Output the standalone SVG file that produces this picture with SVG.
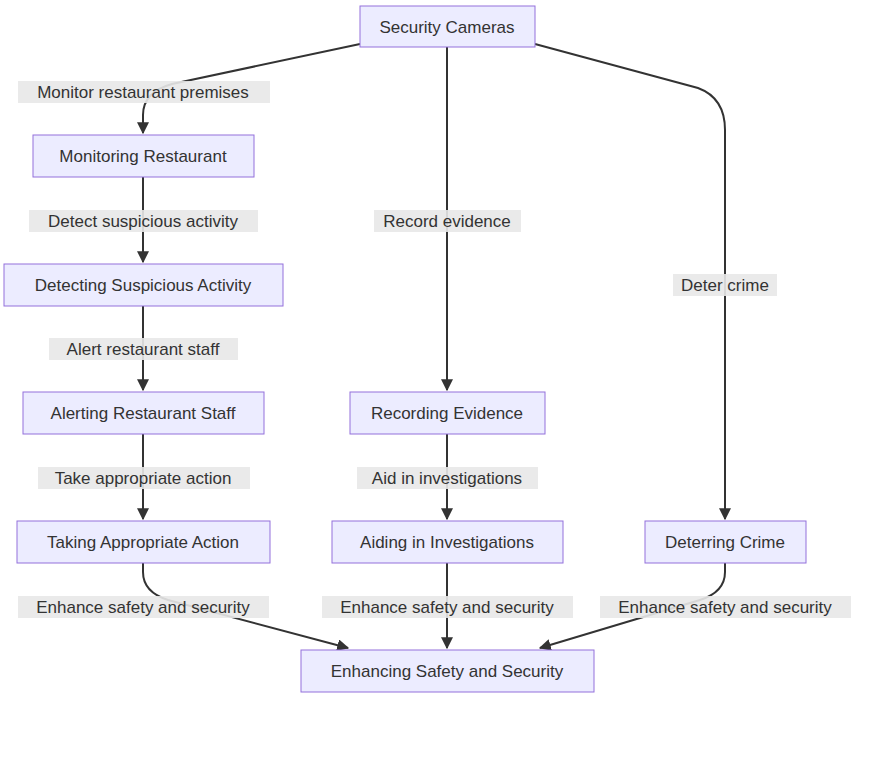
<svg xmlns="http://www.w3.org/2000/svg" width="882" height="757" viewBox="0 0 882 757">
<style>
.n rect{fill:#ECECFF;stroke:#9370DB;stroke-width:1}
text{font-family:"Liberation Sans","DejaVu Sans",sans-serif;font-size:17px;fill:#333;text-anchor:middle;dominant-baseline:central}
.e path{fill:none;stroke:#333;stroke-width:2;marker-end:url(#a)}
.l rect{fill:#e8e8e8;opacity:0.9}
</style>
<defs><marker id="a" viewBox="0 0 10 10" refX="9" refY="5" markerWidth="6" markerHeight="6" orient="auto"><path d="M0,0L10,5L0,10z" fill="#333"/></marker></defs>
<rect width="882" height="757" fill="#fff"/>
<g class="e" id="connectors">
<path d="M360,44 L172,84 Q143,92 143,115 L143,133"/>
<path d="M447,47 V390"/>
<path d="M535,44 L698,88 Q725,98 725,130 V519"/>
<path d="M143,177 V262"/>
<path d="M143,306 V390"/>
<path d="M143,434 V519"/>
<path d="M447,434 V519"/>
<path d="M143,563 V572 Q143,592 168,600 L348,648"/>
<path d="M447,563 V648"/>
<path d="M725,563 V572 Q725,592 700,600 L540,648"/>
</g>
<g class="l">
<rect x="18" y="81" width="252" height="22"/><text x="143" y="92">Monitor restaurant premises</text>
<rect x="29" y="210" width="229" height="22"/><text x="143" y="221">Detect suspicious activity</text>
<rect x="49" y="338" width="189" height="22"/><text x="143" y="349">Alert restaurant staff</text>
<rect x="38" y="467" width="212" height="22"/><text x="143" y="478">Take appropriate action</text>
<rect x="374" y="210" width="147" height="22"/><text x="447" y="221">Record evidence</text>
<rect x="357" y="467" width="181" height="22"/><text x="447" y="478">Aid in investigations</text>
<rect x="673" y="274" width="104" height="22"/><text x="725" y="285">Deter crime</text>
<rect x="18" y="596" width="251" height="22"/><text x="143" y="607">Enhance safety and security</text>
<rect x="322" y="596" width="251" height="22"/><text x="447" y="607">Enhance safety and security</text>
<rect x="600" y="596" width="251" height="22"/><text x="725" y="607">Enhance safety and security</text>
</g>
<g class="n" id="sc"><rect x="360" y="6" width="175" height="41"/><text x="447" y="27">Security Cameras</text></g>
<g class="n" id="mr"><rect x="33" y="135" width="221" height="42"/><text x="143" y="156">Monitoring Restaurant</text></g>
<g class="n" id="dsa"><rect x="4" y="264" width="279" height="42"/><text x="143" y="285">Detecting Suspicious Activity</text></g>
<g class="n" id="ars"><rect x="23" y="392" width="241" height="42"/><text x="143" y="413">Alerting Restaurant Staff</text></g>
<g class="n" id="re"><rect x="350" y="392" width="195" height="42"/><text x="447" y="413">Recording Evidence</text></g>
<g class="n" id="taa"><rect x="17" y="521" width="253" height="42"/><text x="143" y="542">Taking Appropriate Action</text></g>
<g class="n" id="aii"><rect x="332" y="521" width="231" height="42"/><text x="447" y="542">Aiding in Investigations</text></g>
<g class="n" id="dc"><rect x="645" y="521" width="161" height="42"/><text x="725" y="542">Deterring Crime</text></g>
<g class="n" id="ess"><rect x="301" y="650" width="293" height="42"/><text x="447" y="671">Enhancing Safety and Security</text></g>
</svg>
